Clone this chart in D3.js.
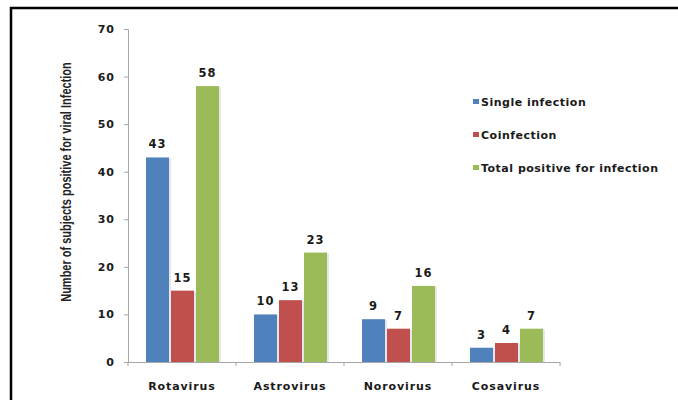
<!DOCTYPE html>
<html>
<head>
<meta charset="utf-8">
<script src="https://cdn.jsdelivr.net/npm/d3@7"></script>
<style>
  body { margin: 0; background: #fff; }
  svg { display: block; }
  .num { font-family: "DejaVu Sans", sans-serif; font-weight: bold; fill: #1a1a1a; }
</style>
</head>
<body>
<script>
const viruses = ["Rotavirus", "Astrovirus", "Norovirus", "Cosavirus"];
const seriesNames = ["Single infection", "Coinfection", "Total positive for infection"];
const singleInfection = [43, 10, 9, 3];
const coinfection = [15, 13, 7, 4];
const totalPositive = [58, 23, 16, 7];
const yTicks = [0, 10, 20, 30, 40, 50, 60, 70];
const yTitle = "Number of subjects positive for viral Infection";

const colors = ["#4f81bd", "#c0504d", "#9bbb59"];
const seriesValues = [singleInfection, coinfection, totalPositive];

const width = 678, height = 400;
const svg = d3.select("body").append("svg")
  .attr("width", width)
  .attr("height", height);

// frame (top and left edges visible)
svg.append("line").attr("x1", 10).attr("x2", width).attr("y1", 8).attr("y2", 8)
  .attr("stroke", "#000").attr("stroke-width", 2.5);
svg.append("line").attr("x1", 11).attr("x2", 11).attr("y1", 7).attr("y2", height)
  .attr("stroke", "#000").attr("stroke-width", 2.5);

const x0 = d3.scaleBand().domain(viruses).range([128, 560]);
const x1 = d3.scaleBand().domain(seriesNames).range([18, 91]).paddingInner(0.08);
const y = d3.scaleLinear().domain([0, 70]).range([362, 29]);

// y axis
const yAxis = svg.append("g")
  .attr("transform", "translate(128,0)")
  .call(d3.axisLeft(y).tickValues(yTicks).tickSize(4).tickPadding(9));
yAxis.select(".domain").attr("stroke", "#a6a6a6");
yAxis.selectAll(".tick line").attr("stroke", "#a6a6a6");
yAxis.selectAll(".tick text")
  .attr("class", "num")
  .style("font-size", "11px")
  .style("letter-spacing", "1px");

// x axis: labels centered, ticks on band boundaries
const xAxis = svg.append("g")
  .attr("transform", "translate(0,362)")
  .call(d3.axisBottom(x0).tickSize(0).tickPadding(20));
xAxis.select(".domain").attr("stroke", "#a6a6a6");
xAxis.selectAll(".tick text")
  .attr("class", "num")
  .style("font-size", "11px")
  .style("letter-spacing", "0.9px");

const bounds = viruses.map(v => x0(v)).concat([x0.range()[1]]);
svg.append("g").selectAll("line")
  .data(bounds)
  .join("line")
  .attr("x1", d => d).attr("x2", d => d)
  .attr("y1", 362).attr("y2", 366)
  .attr("stroke", "#a6a6a6");

// bars
const rows = [];
viruses.forEach((v, i) => {
  seriesNames.forEach((s, j) => {
    rows.push({ virus: v, series: s, value: seriesValues[j][i], color: colors[j] });
  });
});

const groups = svg.append("g");

groups.selectAll(".shadow")
  .data(rows)
  .join("rect")
  .attr("class", "shadow")
  .attr("x", d => x0(d.virus) + x1(d.series) + 2)
  .attr("y", d => y(d.value) + 1)
  .attr("width", x1.bandwidth())
  .attr("height", d => y(0) - y(d.value) - 1)
  .attr("fill", "#d8dae6")
  .attr("opacity", 0.7);

groups.selectAll(".bar")
  .data(rows)
  .join("rect")
  .attr("class", "bar")
  .attr("x", d => x0(d.virus) + x1(d.series))
  .attr("y", d => y(d.value))
  .attr("width", x1.bandwidth())
  .attr("height", d => y(0) - y(d.value))
  .attr("fill", d => d.color);

groups.selectAll(".val")
  .data(rows)
  .join("text")
  .attr("class", "num val")
  .attr("x", d => x0(d.virus) + x1(d.series) + x1.bandwidth() / 2)
  .attr("y", d => y(d.value) - 9)
  .attr("text-anchor", "middle")
  .style("font-size", "11.5px")
  .style("letter-spacing", "1px")
  .text(d => d.value);

// y title, squeezed to the narrow look of the original
const title = svg.append("text")
  .attr("text-anchor", "middle")
  .style("font-family", "'Liberation Sans Narrow', 'Liberation Sans', sans-serif")
  .style("font-size", "14px")
  .style("font-weight", "bold")
  .attr("fill", "#222")
  .text(yTitle);
const natural = title.node().getComputedTextLength();
const sx = Math.min(1, 240 / natural);
title.attr("transform", `translate(71,182) rotate(-90) scale(${sx},1)`);

// legend
const legend = svg.append("g").selectAll("g")
  .data(seriesNames)
  .join("g")
  .attr("transform", (d, i) => `translate(473,${102 + i * 33})`);

legend.append("rect")
  .attr("x", 0).attr("y", -3)
  .attr("width", 6).attr("height", 5)
  .attr("fill", (d, i) => colors[i]);

legend.append("text")
  .attr("class", "num")
  .attr("x", 8)
  .attr("dy", "0.35em")
  .style("font-size", "11px")
  .style("letter-spacing", "0.5px")
  .text(d => d);
</script>
</body>
</html>
